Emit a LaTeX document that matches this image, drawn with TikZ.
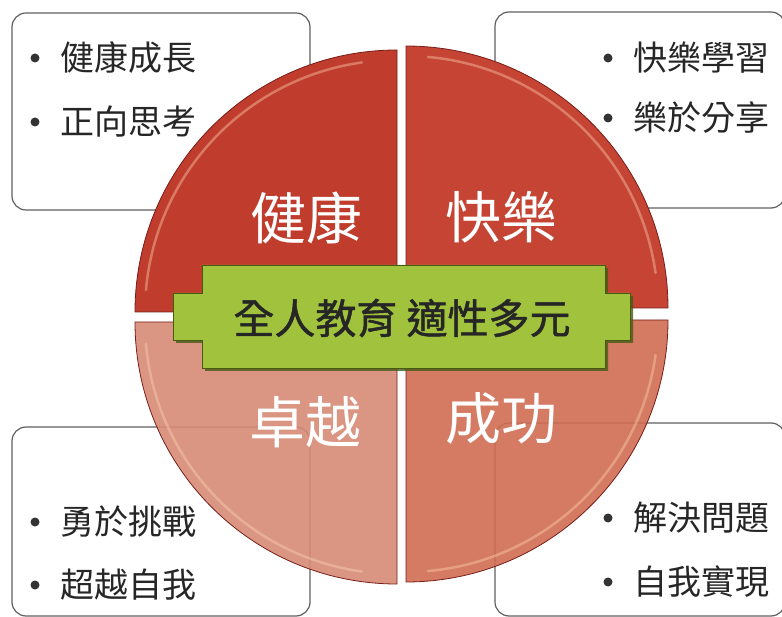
\documentclass[tikz,border=0pt]{standalone}
\usepackage{fontspec}
\newfontfamily\cjk{Noto Sans CJK TC}
\newfontfamily\cjkbold[FakeBold=1.2]{Noto Sans CJK TC}

\definecolor{qtl}{RGB}{192,60,45}
\definecolor{qtr}{RGB}{197,68,52}
\definecolor{qbl}{RGB}{214,138,118}
\definecolor{qbr}{RGB}{208,108,82}
\definecolor{qedge}{RGB}{120,30,25}
\definecolor{glow}{RGB}{255,215,180}
\definecolor{bannergreen}{RGB}{160,194,60}
\definecolor{bannerdark}{RGB}{70,90,20}
\definecolor{boxgray}{RGB}{95,95,95}

\def\qrad{262}

\begin{document}
\begin{tikzpicture}[x=1pt,y=-1pt,line width=1.2pt,font=\cjk]
    \tikzstyle{listbox}=[draw=boxgray,rounded corners=14pt,inner sep=0pt]
    \tikzstyle{quarter}=[draw=qedge,line width=0.8pt]
    \tikzstyle{gloss}=[draw=glow,line width=2.5pt,opacity=0.4,line cap=round]
    \tikzstyle{item}=[anchor=west,inner sep=0pt,text=black!85,font=\cjk\fontsize{34}{34}\selectfont]
    \tikzstyle{bullet}=[fill=black!80]
    \tikzstyle{goal}=[inner sep=0pt,text=white,font=\cjk\fontsize{56}{56}\selectfont]
    \tikzstyle{banner}=[fill=bannergreen,draw=bannerdark,line width=0.8pt]

    \useasboundingbox (0,0) rectangle (782,617);

    % Draw the list boxes behind the circle
    \node[listbox,minimum width=298pt,minimum height=197pt] (box-1) at (161,111.5) {};
    \node[listbox,minimum width=290pt,minimum height=196pt] (box-2) at (640,110) {};
    \node[listbox,minimum width=298pt,minimum height=189pt] (box-3) at (161,521.5) {};
    \node[listbox,minimum width=290pt,minimum height=193pt] (box-4) at (640,519.5) {};

    % Draw the four quarters of the circle
    \draw[quarter,fill=qtl] (397,312) -- (135,312) arc[start angle=180,end angle=270,radius=\qrad] -- cycle;
    \draw[quarter,fill=qtr] (406,308) -- (406,46) arc[start angle=270,end angle=360,radius=\qrad] -- cycle;
    \draw[quarter,fill=qbr,fill opacity=0.9] (406,320) -- (668,320) arc[start angle=0,end angle=90,radius=\qrad] -- cycle;
    \draw[quarter,fill=qbl,fill opacity=0.9] (397,322) -- (397,584) arc[start angle=90,end angle=180,radius=\qrad] -- cycle;

    % Light edge along each arc
    \draw[gloss] (397,312) ++(185:252) arc[start angle=185,end angle=262,radius=252];
    \draw[gloss] (406,308) ++(275:252) arc[start angle=275,end angle=352,radius=252];
    \draw[gloss] (406,320) ++(8:252) arc[start angle=8,end angle=85,radius=252];
    \draw[gloss] (397,322) ++(98:252) arc[start angle=98,end angle=175,radius=252];

    % Draw the banner in the middle
    \fill[bannerdark,opacity=0.8] (205,268) -- (608,268) -- (608,296) -- (633,296) -- (633,343) -- (608,343)
        -- (608,371) -- (205,371) -- (205,343) -- (176,343) -- (176,296) -- (205,296) -- cycle;
    \draw[banner] (202,265) -- (605,265) -- (605,293) -- (630,293) -- (630,340) -- (605,340)
        -- (605,368) -- (202,368) -- (202,340) -- (173,340) -- (173,293) -- (202,293) -- cycle;
    \node[inner sep=0pt,text=black!85,font=\cjkbold\fontsize{41}{41}\selectfont] (core) at (402,318) {全人教育 適性多元};

    % Name the quarters
    \node[goal] (health) at (306,218) {健康};
    \node[goal] (joy) at (501,217) {快樂};
    \node[goal] (excel) at (305,422) {卓越};
    \node[goal] (success) at (501,418) {成功};

    % Fill the list boxes
    \node[item] (h-1) at (60,58) {健康成長};
    \node[item] (h-2) at (60,122) {正向思考};
    \node[item] (j-1) at (633,58) {快樂學習};
    \node[item] (j-2) at (633,118) {樂於分享};
    \node[item] (e-1) at (60,522) {勇於挑戰};
    \node[item] (e-2) at (60,585) {超越自我};
    \node[item] (s-1) at (633,518) {解決問題};
    \node[item] (s-2) at (633,582) {自我實現};

    \fill[bullet] ([xshift=-25pt]h-1.west) circle (4.5);
    \fill[bullet] ([xshift=-25pt]h-2.west) circle (4.5);
    \fill[bullet] ([xshift=-25pt]j-1.west) circle (4.5);
    \fill[bullet] ([xshift=-25pt]j-2.west) circle (4.5);
    \fill[bullet] ([xshift=-25pt]e-1.west) circle (4.5);
    \fill[bullet] ([xshift=-25pt]e-2.west) circle (4.5);
    \fill[bullet] ([xshift=-25pt]s-1.west) circle (4.5);
    \fill[bullet] ([xshift=-25pt]s-2.west) circle (4.5);
\end{tikzpicture}
\end{document}
